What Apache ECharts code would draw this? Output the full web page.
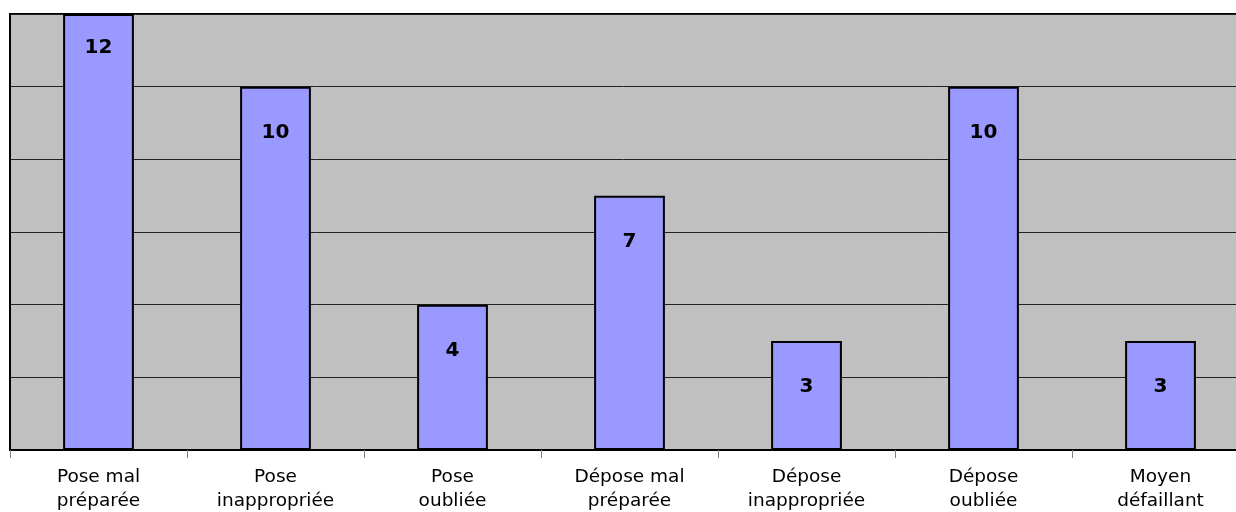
<!DOCTYPE html>
<html>
<head>
<meta charset="utf-8">
<style>
  html, body { margin: 0; padding: 0; background: #fff; }
  #chart { width: 1236px; height: 512px; }
</style>
<script src="https://cdn.jsdelivr.net/npm/echarts@6/dist/echarts.min.js"></script>
</head>
<body>
<div id="chart"></div>
<script>
var categories = [
  'Pose mal\npréparée',
  'Pose\ninappropriée',
  'Pose\noubliée',
  'Dépose mal\npréparée',
  'Dépose\ninappropriée',
  'Dépose\noubliée',
  'Moyen\ndéfaillant'
];
var counts = [12, 10, 4, 7, 3, 10, 3];

// the tallest bar's label sits higher (it touches the top of the plot)
var barData = counts.map(function (v, i) {
  return i === 0 ? { value: v, label: { distance: 24 } } : v;
});

var chart = echarts.init(document.getElementById('chart'));
chart.setOption({
  backgroundColor: '#fff',
  animation: false,
  grid: {
    show: true,
    left: 10,
    top: 14,
    bottom: 62,
    width: 1239,
    outerBoundsMode: 'none',
    containLabel: false,
    backgroundColor: '#c0c0c0',
    borderColor: '#000',
    borderWidth: 2
  },
  xAxis: {
    type: 'category',
    data: categories,
    boundaryGap: true,
    axisLine: { show: true, lineStyle: { color: '#000', width: 2 } },
    axisTick: { show: true, length: 8, lineStyle: { color: '#808080', width: 1 } },
    axisLabel: {
      interval: 0,
      margin: 15,
      color: '#000',
      fontFamily: 'DejaVu Sans',
      fontSize: 18.5,
      lineHeight: 24
    }
  },
  yAxis: {
    type: 'value',
    min: 0,
    max: 12,
    interval: 2,
    axisLine: { show: true, lineStyle: { color: '#000', width: 2 } },
    axisTick: { show: false },
    axisLabel: { show: false },
    splitLine: { show: true, lineStyle: { color: '#222', width: 1 } }
  },
  series: [{
    type: 'bar',
    data: barData,
    barWidth: '40%',
    itemStyle: { color: '#9999ff', borderColor: '#000', borderWidth: 2 },
    label: {
      show: true,
      position: 'insideTop',
      distance: 36,
      color: '#000',
      fontFamily: 'DejaVu Sans',
      fontWeight: 'bold',
      fontSize: 20
    }
  }]
});
</script>
</body>
</html>
